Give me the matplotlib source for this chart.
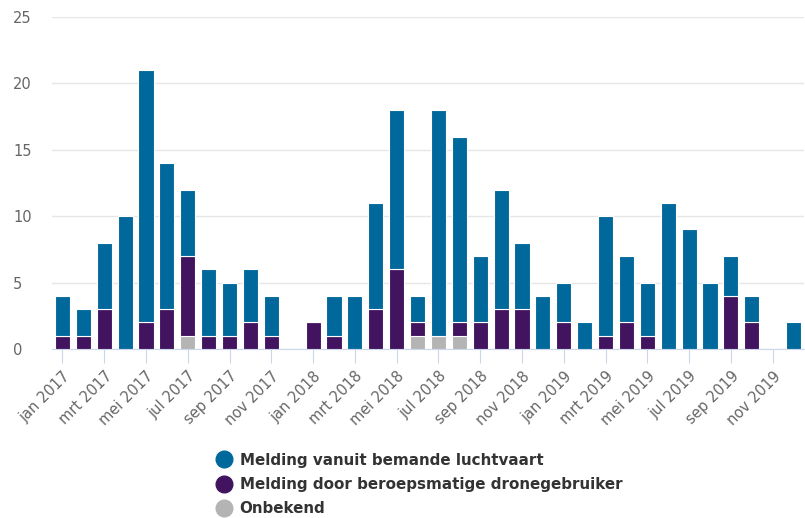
import matplotlib.pyplot as plt
from matplotlib.lines import Line2D
import numpy as np

month_names = ["jan", "feb", "mrt", "apr", "mei", "jun", "jul", "aug", "sep", "okt", "nov", "dec"]
years = [2017, 2018, 2019]
months = [f"{m} {y}" for y in years for m in month_names]

# per month: jan 2017 .. dec 2019
bemand = [3, 2, 5, 10, 19, 11, 5, 5, 4, 4, 3, 0,
          0, 3, 4, 8, 12, 2, 17, 14, 5, 9, 5, 4,
          3, 2, 9, 5, 4, 11, 9, 5, 3, 2, 0, 2]
beroeps = [1, 1, 3, 0, 2, 3, 6, 1, 1, 2, 1, 0,
           2, 1, 0, 3, 6, 1, 0, 1, 2, 3, 3, 0,
           2, 0, 1, 2, 1, 0, 0, 0, 4, 2, 0, 0]
onbekend = [0, 0, 0, 0, 0, 0, 1, 0, 0, 0, 0, 0,
            0, 0, 0, 0, 0, 1, 1, 1, 0, 0, 0, 0,
            0, 0, 0, 0, 0, 0, 0, 0, 0, 0, 0, 0]

labels = ["Melding vanuit bemande luchtvaart",
          "Melding door beroepsmatige dronegebruiker",
          "Onbekend"]
colors = ["#01689b", "#42145f", "#b4b4b4"]

x = np.arange(len(months))
fig = plt.figure(figsize=(8.05, 5.18), dpi=100)
ax = fig.add_axes([52 / 805, 169 / 518, 752 / 805, 332 / 518])

b0 = np.array(onbekend)
b1 = b0 + np.array(beroeps)
w = 0.72
ax.bar(x, onbekend, w, color=colors[2], edgecolor="white", linewidth=0.8, zorder=3)
ax.bar(x, beroeps, w, bottom=b0, color=colors[1], edgecolor="white", linewidth=0.8, zorder=3)
ax.bar(x, bemand, w, bottom=b1, color=colors[0], edgecolor="white", linewidth=0.8, zorder=3)

ax.set_xlim(-0.5, len(months) - 0.5)
ax.set_ylim(0, 25)
ax.set_yticks([0, 5, 10, 15, 20, 25])
ax.grid(axis="y", color="#e6e6e6", linewidth=1, zorder=0)
ax.set_xticks(x[::2])
ax.set_xticklabels(months[::2], rotation=45, ha="right", rotation_mode="anchor",
                   color="#666666", fontsize=10.5)
ax.tick_params(axis="x", length=10, color="#ccd6eb", pad=4)
ax.tick_params(axis="y", length=0, labelcolor="#666666", labelsize=10.5, pad=28)
for s in ["top", "right", "left"]:
    ax.spines[s].set_visible(False)
ax.spines["bottom"].set_color("#ccd6eb")
for t in ax.get_yticklabels():
    t.set_horizontalalignment("left")

handles = [Line2D([], [], marker="o", linestyle="", markersize=12, color=c) for c in colors]
fig.legend(handles, labels, loc="upper left", bbox_to_anchor=(207 / 805, 1 - 445 / 518),
           frameon=False, prop={"weight": "bold", "size": 10.9}, labelcolor="#333333",
           handletextpad=0.45, labelspacing=0.62, handlelength=1.2, borderpad=0)

fig.savefig("out.png", dpi=100)
